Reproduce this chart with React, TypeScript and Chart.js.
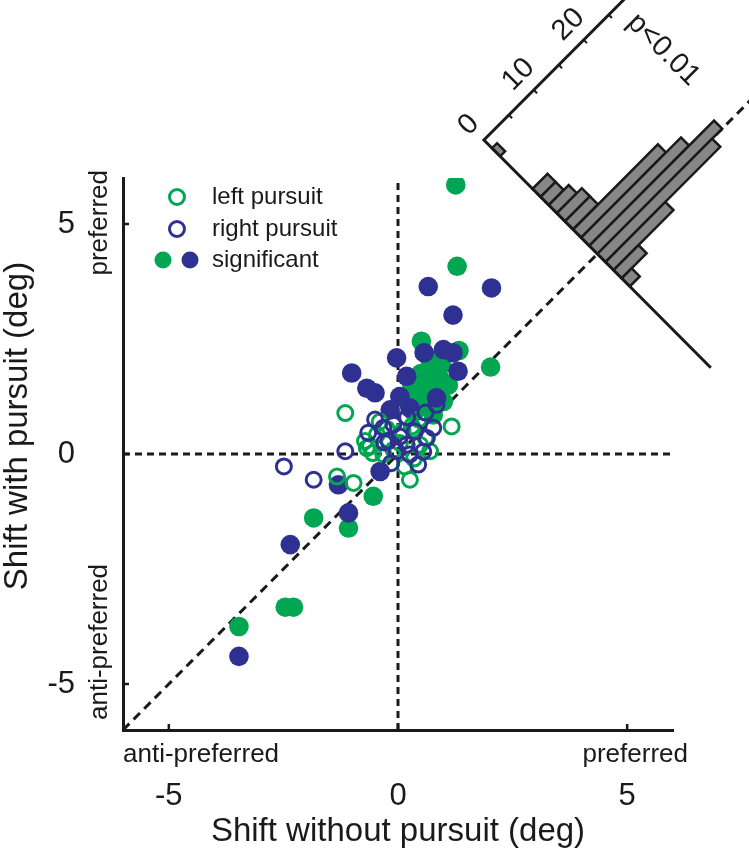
import React, { useEffect, useRef } from 'react';
import { Chart, registerables } from 'chart.js';

Chart.register(...registerables);

const FONT = "'Liberation Sans', Arial, Helvetica, sans-serif";
const GREEN = '#00A651';
const BLUE = '#2E3192';
const INK = '#1a1a1a';
const BAR_FILL = '#878787';

// axes
const AXIS_MIN = -6;
const AXIS_MAX = 6;
const X_TICKS = [-5, 0, 5];
const Y_TICKS = [-5, 0, 5];
const X_TITLE = 'Shift without pursuit (deg)';
const Y_TITLE = 'Shift with pursuit (deg)';
const SIDE_LOW = 'anti-preferred';
const SIDE_HIGH = 'preferred';

// unity line end values
const DIAG_ENDS = [-6, 7.8];

// scatter data [shift without pursuit, shift with pursuit]
const LEFT_OPEN: number[][] = [
  [-1.33, -0.49], [-0.97, -0.63], [0.26, -0.56], [-0.68, 0.13], [-1.15, 0.89],
  [1.17, 0.6], [-0.46, 0.42], [-0.61, 0.17], [0.48, 0.2], [0.04, 0.24],
  [-0.32, -0.01], [0.15, -0.27], [-0.4, 0.7], [0.3, 0.6], [0.6, 0.35],
  [-0.2, 0.3], [0.35, -0.1], [0.1, 0.5], [0.45, 0.75], [-0.55, 0.02],
  [-0.72, 0.28], [-0.1, 0.09], [0.33, 0.53], [0.7, 0.06], [-0.25, 0.55],
];
const RIGHT_OPEN: number[][] = [
  [-2.49, -0.27], [-1.84, -0.56], [-1.15, 0.06], [-0.5, 0.75], [-0.65, 0.46],
  [-0.1, 0.64], [0.37, 0.49], [0.77, 0.57], [0.04, 0.38], [-0.03, 0.06],
  [0.26, -0.01], [0.44, -0.23], [-0.3, 0.25], [0.2, 0.8], [0.55, 0.05],
  [-0.15, -0.2], [0.6, 0.9], [0.84, 1.07], [-0.21, 0.28], [0.19, 0.2],
  [-0.32, 0.57], [0.63, 0.35],
];
const LEFT_SIG: number[][] = [
  [1.26, 5.85], [1.29, 4.08], [2.02, 1.89], [-2.46, -3.33], [-2.28, -3.33],
  [-3.47, -3.75], [-1.84, -1.39], [-1.08, -1.61], [-0.54, -0.92], [0.51, 2.45],
  [1.33, 2.25], [0.77, 1.87], [0.7, 2.05], [0.91, 1.65], [0.62, 1.43],
  [0.55, 1.22], [0.99, 1.14], [0.41, 1.29], [0.77, 0.85], [1.1, 1.5], [0.35, 0.9],
  [0.3, 1.5], [0.75, 1.55], [0.5, 1.75], [0.95, 1.95], [0.65, 1.05], [0.2, 1.15],
];
const RIGHT_SIG: number[][] = [
  [-3.47, -4.4], [-2.35, -1.97], [-1.08, -1.28], [-1.3, -0.67], [-0.39, -0.38],
  [0.66, 3.64], [2.04, 3.61], [1.2, 3.02], [0.57, 2.2], [0.99, 2.27],
  [1.2, 2.2], [1.31, 1.8], [-0.03, 2.09], [-1.01, 1.76], [-0.68, 1.43],
  [-0.5, 1.33], [0.19, 1.69], [0.84, 1.22], [0.04, 1.25], [0.26, 1.0], [-0.17, 0.96],
];

// rotated histogram of distance from unity line ((y - x)/sqrt2, deg)
const HIST_BIN_CENTERS = [
  3.375, 3.125, 2.875, 2.625, 2.375, 2.125, 1.875, 1.625, 1.375, 1.125,
  0.875, 0.625, 0.375, 0.125, -0.125, -0.375, -0.625, -0.875, -1.125, -1.375,
  -1.625, -1.875, -2.125, -2.375, -2.625, -2.875, -3.125, -3.375,
];
const HIST_COUNTS = [
  0, 1, 0, 0, 0, 0, 3, 3, 4, 5,
  5, 17, 20, 25, 23, 12, 5, 2, 0, 0,
  0, 0, 0, 0, 0, 0, 0, 0,
];
const HIST_BIN_WIDTH = 0.25;
const HIST_RANGE = [-3.5, 3.5];
const HIST_CENTER = 4.35; // where the histogram base crosses the unity line
const HIST_UNIT = 0.154; // data units per count
const HIST_COUNT_TICKS = [0, 5, 10, 15, 20, 25];
const HIST_COUNT_LABELS = [0, 10, 20];
const HIST_AXIS_TOP = 28.5;
const HIST_NOTE = 'p<0.01';

const pts = (a: number[][]) => a.map(([x, y]) => ({ x, y }));

const overlay = {
  id: 'overlay',
  afterDraw(chart: any) {
    const ctx: CanvasRenderingContext2D = chart.ctx;
    const xs = chart.scales.x;
    const ys = chart.scales.y;
    const area = chart.chartArea;
    ctx.save();

    // inward tick marks
    ctx.strokeStyle = INK;
    ctx.lineWidth = 2.5;
    ctx.beginPath();
    X_TICKS.forEach((v) => {
      const px = xs.getPixelForValue(v);
      ctx.moveTo(px, area.bottom);
      ctx.lineTo(px, area.bottom - 6);
    });
    Y_TICKS.forEach((v) => {
      const py = ys.getPixelForValue(v);
      ctx.moveTo(area.left, py);
      ctx.lineTo(area.left + 6, py);
    });
    ctx.stroke();

    // side labels
    ctx.fillStyle = INK;
    ctx.font = `26px ${FONT}`;
    ctx.textBaseline = 'middle';
    ctx.textAlign = 'left';
    ctx.fillText(SIDE_LOW, area.left, area.bottom + 25);
    ctx.textAlign = 'right';
    ctx.fillText(SIDE_HIGH, area.right + 15, area.bottom + 25);
    ctx.save();
    ctx.translate(area.left - 23, area.top - 8);
    ctx.rotate(-Math.PI / 2);
    ctx.textAlign = 'right';
    ctx.fillText(SIDE_HIGH, 0, 0);
    ctx.restore();
    ctx.save();
    ctx.translate(area.left - 23, area.bottom - 10);
    ctx.rotate(-Math.PI / 2);
    ctx.textAlign = 'left';
    ctx.fillText(SIDE_LOW, 0, 0);
    ctx.restore();

    // y title
    ctx.save();
    ctx.font = `33px ${FONT}`;
    ctx.translate(18, (area.top + area.bottom) / 2 - 28);
    ctx.rotate(-Math.PI / 2);
    ctx.textAlign = 'center';
    ctx.fillText(Y_TITLE, 0, 0);
    ctx.restore();

    // legend
    const rows = [area.top + 19, area.top + 51, area.top + 82];
    ctx.lineWidth = 3;
    ctx.strokeStyle = GREEN;
    ctx.beginPath();
    ctx.arc(area.left + 54, rows[0], 7.5, 0, Math.PI * 2);
    ctx.stroke();
    ctx.strokeStyle = BLUE;
    ctx.beginPath();
    ctx.arc(area.left + 54, rows[1], 7.5, 0, Math.PI * 2);
    ctx.stroke();
    ctx.fillStyle = GREEN;
    ctx.beginPath();
    ctx.arc(area.left + 40, rows[2], 8.5, 0, Math.PI * 2);
    ctx.fill();
    ctx.fillStyle = BLUE;
    ctx.beginPath();
    ctx.arc(area.left + 67, rows[2], 8.5, 0, Math.PI * 2);
    ctx.fill();
    ctx.fillStyle = INK;
    ctx.font = `24px ${FONT}`;
    ctx.textAlign = 'left';
    ctx.textBaseline = 'middle';
    ['left pursuit', 'right pursuit', 'significant'].forEach((t, i) => {
      ctx.fillText(t, area.left + 89, rows[i]);
    });

    // rotated histogram
    const S = Math.SQRT1_2;
    const P = (d: number, k: number) => {
      const along = k * HIST_UNIT;
      const x = HIST_CENTER - d * S + along * S;
      const y = HIST_CENTER + d * S + along * S;
      return [xs.getPixelForValue(x), ys.getPixelForValue(y)];
    };
    ctx.lineJoin = 'miter';
    ctx.lineWidth = 2.5;
    ctx.strokeStyle = INK;
    ctx.fillStyle = BAR_FILL;
    HIST_BIN_CENTERS.forEach((c, i) => {
      const n = HIST_COUNTS[i];
      if (!n) return;
      const lo = c - HIST_BIN_WIDTH / 2;
      const hi = c + HIST_BIN_WIDTH / 2;
      const a = P(lo, 0), b = P(hi, 0), cc = P(hi, n), dd = P(lo, n);
      ctx.beginPath();
      ctx.moveTo(a[0], a[1]);
      ctx.lineTo(b[0], b[1]);
      ctx.lineTo(cc[0], cc[1]);
      ctx.lineTo(dd[0], dd[1]);
      ctx.closePath();
      ctx.fill();
      ctx.stroke();
    });
    // base line and count axis
    ctx.lineWidth = 3;
    ctx.beginPath();
    const b0 = P(HIST_RANGE[0], 0), b1 = P(HIST_RANGE[1], 0), top = P(HIST_RANGE[1], HIST_AXIS_TOP);
    ctx.moveTo(b0[0], b0[1]);
    ctx.lineTo(b1[0], b1[1]);
    ctx.lineTo(top[0], top[1]);
    ctx.stroke();
    ctx.lineWidth = 2;
    ctx.beginPath();
    HIST_COUNT_TICKS.forEach((k) => {
      const p0 = P(HIST_RANGE[1], k);
      const p1 = P(HIST_RANGE[1] - 0.1, k);
      ctx.moveTo(p0[0], p0[1]);
      ctx.lineTo(p1[0], p1[1]);
    });
    ctx.stroke();
    ctx.fillStyle = INK;
    ctx.font = `29px ${FONT}`;
    ctx.textAlign = 'center';
    ctx.textBaseline = 'middle';
    HIST_COUNT_LABELS.forEach((k) => {
      const p = P(HIST_RANGE[1] + 0.47, k);
      ctx.save();
      ctx.translate(p[0], p[1]);
      ctx.rotate(-Math.PI / 4);
      ctx.fillText(String(k), 0, 0);
      ctx.restore();
    });
    const pn = P(2.12, 27);
    ctx.save();
    ctx.translate(pn[0], pn[1]);
    ctx.rotate(Math.PI / 4);
    ctx.fillText(HIST_NOTE, 0, 0);
    ctx.restore();

    ctx.restore();
  },
};

export default function App() {
  const ref = useRef<HTMLCanvasElement>(null);
  useEffect(() => {
    Chart.defaults.font.family = FONT;
    const lineDs = (data: any[], dash: number[], extra: any = {}) => ({
      type: 'scatter',
      data,
      showLine: true,
      borderColor: INK,
      borderWidth: 3,
      borderDash: dash,
      pointRadius: 0,
      fill: false,
      order: 10,
      ...extra,
    });
    const chart = new Chart(ref.current as HTMLCanvasElement, {
      type: 'scatter',
      data: {
        datasets: [
          lineDs(DIAG_ENDS.map((v) => ({ x: v, y: v })), [9, 6], { clip: false }),
          lineDs([{ x: 0, y: AXIS_MIN }, { x: 0, y: AXIS_MAX }], [7, 5]),
          lineDs([{ x: AXIS_MIN, y: 0 }, { x: AXIS_MAX, y: 0 }], [7, 5]),
          {
            label: 'significant left',
            data: pts(LEFT_SIG),
            backgroundColor: GREEN,
            borderWidth: 0,
            pointRadius: 9.8,
            order: 4,
          },
          {
            label: 'significant right',
            data: pts(RIGHT_SIG),
            backgroundColor: BLUE,
            borderWidth: 0,
            pointRadius: 9.8,
            order: 3,
          },
          {
            label: 'left pursuit',
            data: pts(LEFT_OPEN),
            backgroundColor: 'rgba(0,0,0,0)',
            borderColor: GREEN,
            borderWidth: 3,
            pointRadius: 7.5,
            order: 2,
          },
          {
            label: 'right pursuit',
            data: pts(RIGHT_OPEN),
            backgroundColor: 'rgba(0,0,0,0)',
            borderColor: BLUE,
            borderWidth: 3,
            pointRadius: 7.5,
            order: 1,
          },
        ] as any,
      },
      options: {
        responsive: false,
        devicePixelRatio: 1,
        animation: false,
        events: [],
        layout: { padding: { top: 178, right: 76, left: 0, bottom: 0 } },
        plugins: { legend: { display: false }, tooltip: { enabled: false } },
        scales: {
          x: {
            type: 'linear',
            position: 'bottom',
            min: AXIS_MIN,
            max: AXIS_MAX,
            afterBuildTicks: (s: any) => {
              s.ticks = X_TICKS.map((v) => ({ value: v }));
            },
            afterFit: (s: any) => {
              s.height = 123;
            },
            grid: { display: false, drawTicks: false },
            border: { display: true, color: INK, width: 3 },
            ticks: { color: INK, font: { size: 31, family: FONT }, padding: 48, maxRotation: 0 },
            title: {
              display: true,
              text: X_TITLE,
              color: INK,
              font: { size: 33, family: FONT },
              padding: { top: 0, bottom: 1 },
            },
          },
          y: {
            type: 'linear',
            position: 'left',
            min: AXIS_MIN,
            max: AXIS_MAX,
            afterBuildTicks: (s: any) => {
              s.ticks = Y_TICKS.map((v) => ({ value: v }));
            },
            afterFit: (s: any) => {
              s.width = 123;
            },
            grid: { display: false, drawTicks: false },
            border: { display: true, color: INK, width: 3 },
            ticks: { color: INK, font: { size: 31, family: FONT }, padding: 48 },
          },
        },
      } as any,
      plugins: [overlay],
    });
    return () => chart.destroy();
  }, []);
  return (
    <div style={{ position: 'absolute', left: 0, top: 0, width: 749, height: 853, background: '#fff' }}>
      <canvas ref={ref} width={749} height={853} style={{ display: 'block', width: 749, height: 853 }} />
    </div>
  );
}
